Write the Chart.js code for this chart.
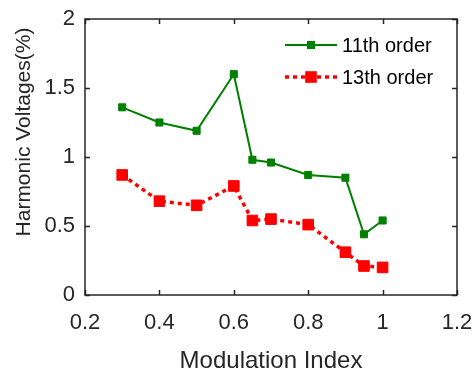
<!DOCTYPE html>
<html>
<head>
<meta charset="utf-8">
<script src="https://cdn.jsdelivr.net/npm/chart.js@4"></script>
<style>
  html, body { margin: 0; padding: 0; background: #fff; }
  #wrap { width: 473px; height: 376px; }
</style>
</head>
<body>
<div id="wrap"><canvas id="harmonics" width="473" height="376"></canvas></div>
<script>
const modulationIndex = [0.3, 0.4, 0.5, 0.6, 0.65, 0.7, 0.8, 0.9, 0.95, 1.0];
const order11 = [1.36, 1.25, 1.19, 1.60, 0.98, 0.96, 0.87, 0.85, 0.44, 0.54];
const order13 = [0.87, 0.68, 0.65, 0.79, 0.54, 0.55, 0.51, 0.31, 0.21, 0.20];

const xTicks = [0.2, 0.4, 0.6, 0.8, 1, 1.2];
const yTicks = [0, 0.5, 1, 1.5, 2];

const axisColor = '#262626';
const fontFamily = '"Liberation Sans", Arial, sans-serif';

function toPoints(xs, ys) {
    return xs.map((x, i) => ({ x: x, y: ys[i] }));
}

// box around the plot with inward tick marks on all four sides
const boxAxes = {
    id: 'boxAxes',
    afterDraw(chart) {
        const { ctx, chartArea: a, scales } = chart;
        const len = 5;
        ctx.save();
        ctx.strokeStyle = axisColor;
        ctx.lineWidth = 1.5;
        ctx.beginPath();
        for (const v of xTicks) {
            const px = Math.round(scales.x.getPixelForValue(v)) + 0.5;
            ctx.moveTo(px, a.bottom);
            ctx.lineTo(px, a.bottom - len);
            ctx.moveTo(px, a.top);
            ctx.lineTo(px, a.top + len);
        }
        for (const v of yTicks) {
            const py = Math.round(scales.y.getPixelForValue(v)) + 0.5;
            ctx.moveTo(a.left, py);
            ctx.lineTo(a.left + len, py);
            ctx.moveTo(a.right, py);
            ctx.lineTo(a.right - len, py);
        }
        ctx.stroke();
        ctx.strokeRect(a.left, a.top, a.right - a.left, a.bottom - a.top);

        // y axis title
        ctx.fillStyle = axisColor;
        ctx.font = '21px ' + fontFamily;
        ctx.textAlign = 'center';
        ctx.textBaseline = 'middle';
        ctx.translate(24, 132);
        ctx.rotate(-Math.PI / 2);
        ctx.fillText('Harmonic Voltages(%)', 0, 0);
        ctx.restore();
    }
};

// legend in the upper right corner, line sample with a marker in the middle
const insideLegend = {
    id: 'insideLegend',
    afterDraw(chart) {
        const { ctx, chartArea: a } = chart;
        const x0 = a.right - 172;
        const x1 = a.right - 120;
        const xm = (x0 + x1) / 2;
        const rows = [a.top + 26, a.top + 58];
        ctx.save();
        chart.data.datasets.forEach((ds, i) => {
            const y = rows[i];
            ctx.strokeStyle = ds.borderColor;
            ctx.lineWidth = ds.borderWidth;
            ctx.setLineDash(ds.borderDash || []);
            ctx.beginPath();
            ctx.moveTo(x0, y);
            ctx.lineTo(x1, y);
            ctx.stroke();
            ctx.setLineDash([]);
            const s = ds.pointRadius * Math.SQRT1_2 + 0.5;
            ctx.fillStyle = ds.pointBackgroundColor;
            ctx.fillRect(xm - s, y - s, 2 * s, 2 * s);
            ctx.fillStyle = '#000';
            ctx.font = '20px ' + fontFamily;
            ctx.textAlign = 'left';
            ctx.textBaseline = 'middle';
            ctx.fillText(ds.label, x1 + 5, y + 1);
        });
        ctx.restore();
    }
};

new Chart(document.getElementById('harmonics'), {
    type: 'scatter',
    data: {
        datasets: [
            {
                label: '11th order',
                data: toPoints(modulationIndex, order11),
                showLine: true,
                borderColor: '#008000',
                backgroundColor: '#008000',
                borderWidth: 2,
                pointStyle: 'rect',
                pointRadius: 5,
                pointBorderWidth: 1,
                pointBackgroundColor: '#008000',
                pointBorderColor: '#008000'
            },
            {
                label: '13th order',
                data: toPoints(modulationIndex, order13),
                showLine: true,
                borderColor: '#ff0000',
                backgroundColor: '#ff0000',
                borderWidth: 3.5,
                borderDash: [4, 4],
                pointStyle: 'rect',
                pointRadius: 7.5,
                pointBorderWidth: 1,
                pointBackgroundColor: '#ff0000',
                pointBorderColor: '#ff0000'
            }
        ]
    },
    options: {
        responsive: false,
        animation: false,
        events: [],
        layout: { padding: { left: 0, right: 16, top: 19, bottom: 0 } },
        plugins: {
            legend: { display: false },
            tooltip: { enabled: false }
        },
        scales: {
            x: {
                type: 'linear',
                min: 0.2,
                max: 1.2,
                afterBuildTicks: (scale) => { scale.ticks = xTicks.map(v => ({ value: v })); },
                afterFit: (scale) => {
                    scale.height = 81;
                    scale.paddingLeft = 0;
                    scale.paddingRight = 0;
                },
                grid: { display: false, drawTicks: false },
                border: { display: false },
                ticks: {
                    padding: 15,
                    color: axisColor,
                    font: { family: fontFamily, size: 22 },
                    maxRotation: 0,
                    callback: (v) => String(v)
                },
                title: {
                    display: true,
                    text: 'Modulation Index',
                    color: axisColor,
                    font: { family: fontFamily, size: 24 },
                    padding: { top: 0, bottom: 0 }
                }
            },
            y: {
                type: 'linear',
                min: 0,
                max: 2,
                afterBuildTicks: (scale) => { scale.ticks = yTicks.map(v => ({ value: v })); },
                afterFit: (scale) => {
                    scale.width = 85;
                    scale.paddingTop = 0;
                    scale.paddingBottom = 0;
                },
                grid: { display: false, drawTicks: false },
                border: { display: false },
                ticks: {
                    padding: 10,
                    color: axisColor,
                    font: { family: fontFamily, size: 22 },
                    callback: (v) => String(v)
                }
            }
        }
    },
    plugins: [boxAxes, insideLegend]
});
</script>
</body>
</html>
